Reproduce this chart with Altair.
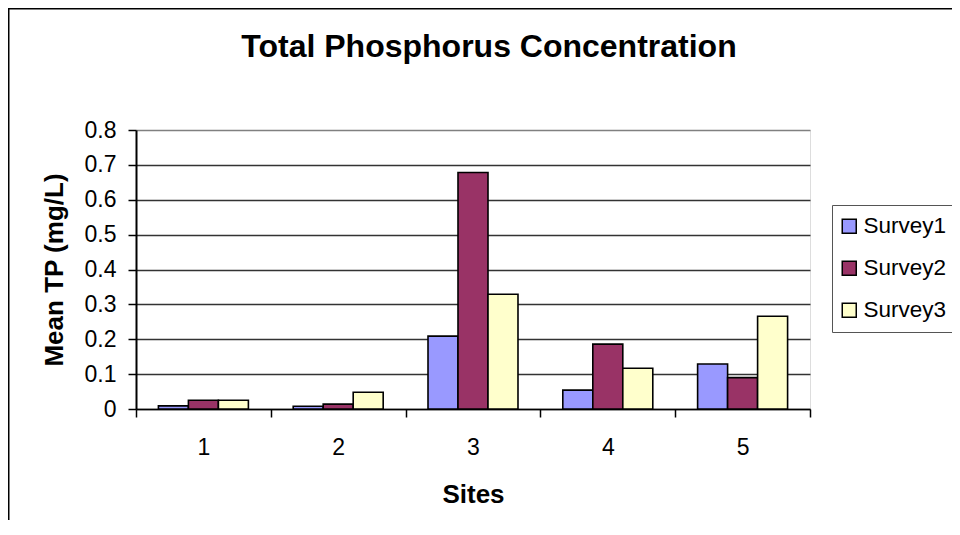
import altair as alt
import pandas as pd

sites = ["1", "2", "3", "4", "5"]
series = ["Survey1", "Survey2", "Survey3"]
survey1 = [0.009, 0.008, 0.209, 0.054, 0.129]
survey2 = [0.025, 0.014, 0.678, 0.186, 0.090]
survey3 = [0.025, 0.048, 0.329, 0.117, 0.266]
colors = ["#9999FF", "#993366", "#FFFFCC"]
y_ticks = [0, 0.1, 0.2, 0.3, 0.4, 0.5, 0.6, 0.7, 0.8]

rows = []
for s, vals in zip(series, [survey1, survey2, survey3]):
    for site, v in zip(sites, vals):
        rows.append({"Site": site, "Survey": s, "TP": v})
df = pd.DataFrame(rows)

FONT = "Liberation Sans"

bars = alt.Chart(df).mark_bar(stroke="black", strokeWidth=1.6).encode(
    x=alt.X(
        "Site:N",
        sort=sites,
        scale=alt.Scale(paddingInner=0, paddingOuter=0),
        axis=alt.Axis(
            title="Sites",
            labelAngle=0,
            tickBand="extent",
            ticks=True,
            tickSize=8,
            tickColor="black",
            tickWidth=1.5,
            domainColor="black",
            domainWidth=1.5,
            labelFontSize=23,
            labelFont=FONT,
            labelColor="black",
            labelBaseline="alphabetic",
            labelPadding=37,
            titleFontSize=26,
            titleFont=FONT,
            titleFontWeight="bold",
            titleColor="black",
            titleY=93,
            titleBaseline="alphabetic",
            grid=False,
        ),
    ),
    xOffset=alt.XOffset(
        "Survey:N", sort=series, scale=alt.Scale(paddingInner=0, paddingOuter=0.747)
    ),
    y=alt.Y(
        "TP:Q",
        scale=alt.Scale(domain=[0, 0.8], nice=False),
        axis=alt.Axis(
            values=y_ticks,
            format="~g",
            title="Mean TP (mg/L)",
            titleFontSize=26,
            titleFont=FONT,
            titleFontWeight="bold",
            titleColor="black",
            titleX=-82,
            titleY=139.5,
            titleAngle=270,
            titleBaseline="middle",
            titleAlign="center",
            tickSize=8,
            tickColor="black",
            tickWidth=1.5,
            domainColor="black",
            domainWidth=2,
            labelFontSize=23,
            labelFont=FONT,
            labelColor="black",
            labelPadding=12,
            grid=True,
            gridColor={"condition": {"test": "datum.value >= 0.79", "value": "#808080"}, "value": "#333333"},
            gridWidth=1.4,
        ),
    ),
    color=alt.Color(
        "Survey:N",
        sort=series,
        scale=alt.Scale(domain=series, range=colors),
        legend=alt.Legend(
            title=None,
            orient="none",
            legendX=696,
            legendY=75,
            strokeColor="#555555",
            fillColor="white",
            padding=10,
            symbolType="square",
            symbolSize=196,
            symbolOffset=-4,
            symbolStrokeColor="black",
            symbolStrokeWidth=1.5,
            symbolOpacity=1,
            labelFontSize=22.5,
            labelFont=FONT,
            labelColor="black",
            rowPadding=19,
            labelOffset=3,
        ),
    ),
)

border_left = alt.Chart(alt.Data(values=[{}])).mark_rule(
    color="black", strokeWidth=2, clip=False
).encode(x=alt.value(-127.5), y=alt.value(-122.5), y2=alt.value(420))

border_top = alt.Chart(alt.Data(values=[{}])).mark_rule(
    color="black", strokeWidth=2, clip=False
).encode(x=alt.value(-128.5), x2=alt.value(830), y=alt.value(-121.5))

chart = (
    alt.layer(bars, border_left, border_top)
    .properties(
        width=674,
        height=279,
        autosize="none",
        padding={"left": 128, "top": 122, "right": 142, "bottom": 111},
        title=alt.Title(
            "Total Phosphorus Concentration",
            fontSize=32,
            font=FONT,
            fontWeight="bold",
            color="black",
            anchor="middle",
            baseline="alphabetic",
            dx=16,
            offset=-82,
        ),
    )
    .configure_view(stroke="#808080", strokeWidth=1.5, fill="#C0C0C0")
    .configure(background="white")
)

chart.save("out.html", embed_options={"renderer": "svg", "actions": False})
